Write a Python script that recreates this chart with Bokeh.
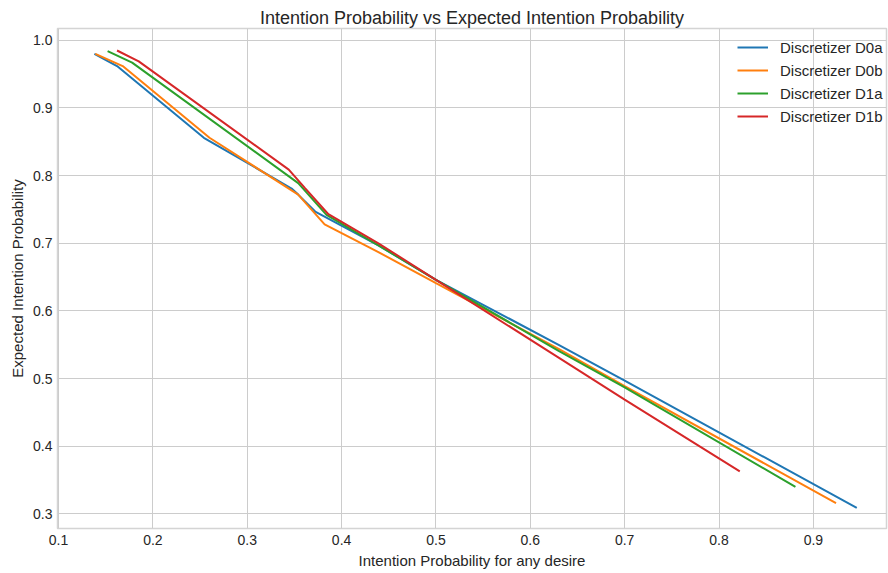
from bokeh.plotting import figure
from bokeh.models import Range1d, FixedTicker, NumeralTickFormatter, Legend, LegendItem
from bokeh.embed import file_html
from bokeh.resources import INLINE

# Data
d0a_x = [0.138, 0.162, 0.254, 0.347, 0.354, 0.372, 0.439, 0.500, 0.630, 0.700, 0.946]
d0a_y = [0.980, 0.962, 0.856, 0.781, 0.772, 0.747, 0.697, 0.646, 0.550, 0.497, 0.309]

d0b_x = [0.139, 0.168, 0.260, 0.354, 0.382, 0.439, 0.500, 0.630, 0.700, 0.924]
d0b_y = [0.980, 0.962, 0.856, 0.772, 0.728, 0.687, 0.641, 0.544, 0.489, 0.316]

d1a_x = [0.152, 0.178, 0.354, 0.384, 0.439, 0.500, 0.630, 0.700, 0.881]
d1a_y = [0.984, 0.967, 0.789, 0.742, 0.697, 0.646, 0.541, 0.487, 0.340]

d1b_x = [0.162, 0.185, 0.344, 0.361, 0.386, 0.439, 0.500, 0.630, 0.700, 0.822]
d1b_y = [0.985, 0.969, 0.809, 0.782, 0.743, 0.700, 0.646, 0.531, 0.469, 0.363]

series_names = ["Discretizer D0a", "Discretizer D0b", "Discretizer D1a", "Discretizer D1b"]
series_colors = ["#1f77b4", "#ff7f0e", "#2ca02c", "#d62728"]
x_ticks = [0.1, 0.2, 0.3, 0.4, 0.5, 0.6, 0.7, 0.8, 0.9]
y_ticks = [0.3, 0.4, 0.5, 0.6, 0.7, 0.8, 0.9, 1.0]

FONT = "Liberation Sans"
TXT = "#262626"

p = figure(width=888, height=573, output_backend="svg", toolbar_location=None,
           x_range=Range1d(0.0989, 0.9775), y_range=Range1d(0.2785, 1.0175),
           title="Intention Probability vs Expected Intention Probability",
           min_border_left=57, min_border_right=2, min_border_top=28, min_border_bottom=45)

p.title.align = "center"
p.title.text_font = FONT
p.title.text_font_size = "18px"
p.title.text_font_style = "normal"
p.title.text_color = TXT
p.title.standoff = 2
p.title.offset = 4

p.outline_line_color = "#d4d4d4"
p.outline_line_width = 1.5
p.background_fill_color = "white"
p.border_fill_color = "white"

for ax in (p.xaxis, p.yaxis):
    ax.axis_line_color = None
    ax.major_tick_line_color = None
    ax.minor_tick_line_color = None
    ax.major_tick_out = 0
    ax.major_tick_in = 0
    ax.major_label_text_font = FONT
    ax.major_label_text_font_size = "14px"
    ax.major_label_text_color = TXT
    ax.axis_label_text_font = FONT
    ax.axis_label_text_font_size = "15px"
    ax.axis_label_text_font_style = "normal"
    ax.axis_label_text_color = TXT
    ax.axis_label_standoff = 4
p.xaxis.major_label_standoff = 6
p.yaxis.major_label_standoff = 5

p.xaxis.ticker = FixedTicker(ticks=x_ticks)
p.yaxis.ticker = FixedTicker(ticks=y_ticks)
p.xaxis.formatter = NumeralTickFormatter(format="0.0")
p.yaxis.formatter = NumeralTickFormatter(format="0.0")
p.xaxis.axis_label = "Intention Probability for any desire"
p.yaxis.axis_label = "Expected Intention Probability"

p.grid.grid_line_color = "#cccccc"
p.grid.grid_line_width = 1
p.xgrid.ticker = FixedTicker(ticks=x_ticks)
p.ygrid.ticker = FixedTicker(ticks=y_ticks)

xs = [d0a_x, d0b_x, d1a_x, d1b_x]
ys = [d0a_y, d0b_y, d1a_y, d1b_y]
items = []
for x, y, name, c in zip(xs, ys, series_names, series_colors):
    r = p.line(x, y, line_color=c, line_width=2)
    items.append(LegendItem(label=name, renderers=[r]))

legend = Legend(items=items, location=(680, 402))
legend.border_line_color = None
legend.background_fill_alpha = 0
legend.label_text_font = FONT
legend.label_text_font_size = "15px"
legend.label_text_color = TXT
legend.glyph_width = 31
legend.glyph_height = 20
legend.label_height = 20
legend.spacing = 3
legend.padding = 3
legend.margin = 0
legend.label_standoff = 12
p.add_layout(legend)

open("out.html", "w").write(file_html(p, INLINE))
